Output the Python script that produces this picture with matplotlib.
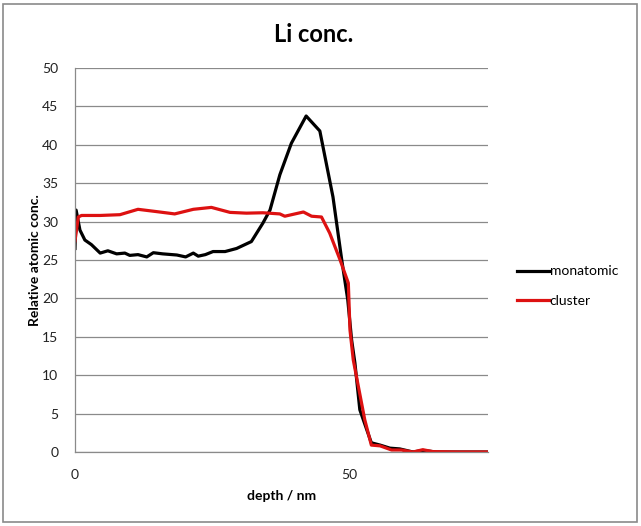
import matplotlib.pyplot as plt
from matplotlib.patches import Rectangle

# monatomic Li profile (depth nm, relative conc.)
mono_depth = [0.0, 0.2, 0.9, 1.8, 3.0, 4.6, 6.0, 7.6, 9.1, 10.0, 11.5, 13.1, 14.3, 16.0,
              18.6, 20.2, 21.6, 22.5, 23.8, 25.2, 27.4, 29.5, 32.2, 34.3, 35.6, 37.4,
              39.5, 42.2, 44.7, 47.1, 48.7, 49.8, 50.5, 51.1, 52.0, 54.1, 55.7, 57.5,
              59.3, 61.7, 63.5, 66.0, 70.0, 75.4]
mono_conc = [26.5, 31.5, 28.9, 27.6, 27.0, 25.9, 26.2, 25.8, 25.9, 25.6, 25.7, 25.4, 25.95, 25.8,
             25.65, 25.4, 25.9, 25.5, 25.7, 26.1, 26.1, 26.5, 27.4, 29.8, 31.5, 36.1,
             40.2, 43.75, 41.8, 33.2, 25.0, 19.8, 14.6, 11.6, 5.5, 1.2, 0.9, 0.5,
             0.4, 0.0, 0.2, 0.0, 0.0, 0.0]

# cluster Li profile
clus_depth = [0.0, 0.2, 0.6, 1.2, 4.6, 8.2, 11.5, 14.9, 18.2, 21.6, 24.9, 28.3, 31.3,
              34.3, 37.4, 38.3, 41.7, 43.2, 45.0, 46.5, 48.4, 49.9, 50.2, 50.8, 52.9,
              54.1, 55.7, 57.8, 59.6, 61.7, 63.5, 65.3, 70.0, 75.4]
clus_conc = [27.5, 28.5, 30.6, 30.8, 30.8, 30.9, 31.6, 31.3, 31.0, 31.6, 31.85, 31.2, 31.1,
             31.15, 31.0, 30.7, 31.25, 30.7, 30.6, 28.5, 25.0, 22.0, 15.9, 12.0, 4.2,
             0.9, 0.8, 0.26, 0.26, 0.0, 0.3, 0.05, 0.0, 0.0]

y_ticks = [0, 5, 10, 15, 20, 25, 30, 35, 40, 45, 50]
x_ticks = [0, 50]

plt.rcParams['font.family'] = ['Lato', 'DejaVu Sans']

fig = plt.figure(figsize=(6.41, 5.26), dpi=100)
ax = fig.add_axes([75 / 641, 1 - 452 / 526, (488 - 75) / 641, (452 - 68) / 526])

ax.plot(mono_depth, mono_conc, color='black', lw=2.3, label='monatomic', solid_joinstyle='round')
ax.plot(clus_depth, clus_conc, color='#dd1111', lw=2.3, label='cluster', solid_joinstyle='round')

ax.set_xlim(0, 75.4)
ax.set_ylim(0, 50)
ax.set_xticks(x_ticks)
ax.set_yticks(y_ticks)
ax.yaxis.grid(True, color='#8a8a8a', lw=0.9)
ax.set_axisbelow(True)
for s in ['top', 'right']:
    ax.spines[s].set_visible(False)
for s in ['left', 'bottom']:
    ax.spines[s].set_color('#8a8a8a')
    ax.spines[s].set_linewidth(0.9)
ax.tick_params(length=0, labelsize=10, colors='#222222')
ax.tick_params(axis='x', pad=12)
ax.tick_params(axis='y', pad=12)

fig.text(314 / 641, 1 - 35 / 526, 'Li conc.', fontsize=17, fontweight='bold',
         ha='center', va='center')
ax.set_xlabel('depth / nm', fontsize=10, fontweight='bold', labelpad=7)
ax.set_ylabel('Relative atomic conc.', fontsize=10, fontweight='bold', labelpad=1)

ax.legend(loc='center left', bbox_to_anchor=(1.057, 0.432), frameon=False, fontsize=10,
          borderaxespad=0, handlelength=2.3, handletextpad=0.05, labelspacing=1.25)

fig.patches.append(Rectangle((3 / 641, 4 / 526), 634 / 641, 518 / 526, transform=fig.transFigure,
                             fill=False, edgecolor='#8a8a8a', lw=1.2))

fig.savefig('out.png', dpi=100)
